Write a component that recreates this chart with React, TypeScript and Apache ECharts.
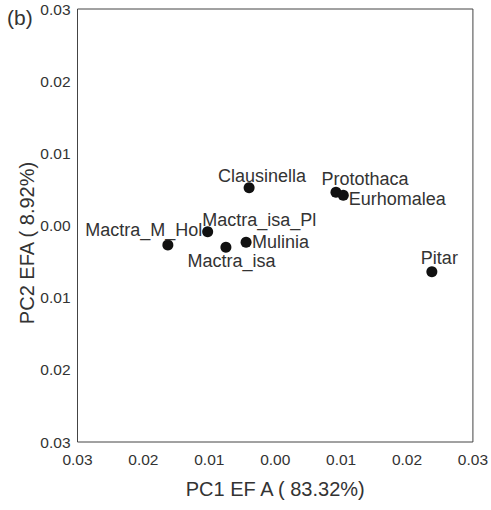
import React, { useEffect, useRef } from "react";
import * as echarts from "echarts";

const names = ["Clausinella", "Mactra_isa_Pl", "Mactra_M_Hol", "Mactra_isa", "Mulinia", "Protothaca", "Eurhomalea", "Pitar"];
const pc1 = [-0.00396, -0.01025, -0.01629, -0.00748, -0.00442, 0.00922, 0.01033, 0.02377];
const pc2 = [0.00524, -0.00086, -0.0027, -0.00302, -0.00233, 0.0046, 0.00418, -0.0064];
// label offsets (label centre relative to point)
const labelDx = [13, 51.5, -24, 5.5, 34.5, 29, 54, 7.5];
const labelDy = [-11.5, -12, -15, 14, 0, -13, 4, -13.5];

const FONT = "'Liberation Sans', Arial, Helvetica, sans-serif";
const TEXT = "#333";

export default function App() {
  const ref = useRef<HTMLDivElement>(null);
  useEffect(() => {
    if (!ref.current) return;
    const chart = echarts.init(ref.current, undefined, { renderer: "svg" });
    const data = names.map((n, i) => ({
      name: n,
      value: [pc1[i], pc2[i]],
      label: {
        show: true,
        formatter: n,
        position: "inside",
        offset: [labelDx[i], labelDy[i]],
        align: "center",
        verticalAlign: "middle",
        color: TEXT,
        fontSize: 18,
        fontFamily: FONT,
      },
    }));
    chart.setOption({
      animation: false,
      grid: {
        left: 77.5,
        right: 15.5,
        top: 9,
        bottom: 68,
        show: true,
        borderColor: "#444",
        borderWidth: 1,
        backgroundColor: "transparent",
      },
      xAxis: {
        type: "value",
        min: -0.03,
        max: 0.03,
        interval: 0.01,
        axisLine: { show: false },
        axisTick: { show: false },
        splitLine: { show: false },
        axisLabel: {
          color: TEXT,
          fontSize: 15.5,
          fontFamily: FONT,
          margin: 9,
          formatter: (v: number) => Math.abs(v).toFixed(2),
        },
        name: "PC1 EF A ( 83.32%)",
        nameLocation: "middle",
        nameGap: 37,
        nameTextStyle: { color: TEXT, fontSize: 20, fontFamily: FONT },
      },
      yAxis: {
        type: "value",
        min: -0.03,
        max: 0.03,
        interval: 0.01,
        axisLine: { show: false },
        axisTick: { show: false },
        splitLine: { show: false },
        axisLabel: {
          color: TEXT,
          fontSize: 15.5,
          fontFamily: FONT,
          margin: 7,
          formatter: (v: number) => Math.abs(v).toFixed(2),
        },
      },
      graphic: [
        {
          type: "text",
          x: 27,
          y: 243,
          rotation: Math.PI / 2,
          style: {
            text: "PC2 EFA ( 8.92%)",
            fill: TEXT,
            fontSize: 20,
            fontFamily: FONT,
            textAlign: "center",
            textVerticalAlign: "middle",
          },
        },
        {
          type: "text",
          x: 7,
          y: 17,
          style: {
            text: "(b)",
            fill: TEXT,
            fontSize: 21,
            fontFamily: FONT,
            textAlign: "left",
            textVerticalAlign: "middle",
          },
        },
      ],
      series: [
        {
          type: "scatter",
          symbol: "circle",
          symbolSize: 11,
          itemStyle: { color: "#111", opacity: 1 },
          data,
        },
      ],
    });
    return () => chart.dispose();
  }, []);
  return <div ref={ref} style={{ width: 491, height: 510, position: "absolute", left: 0, top: 0 }} />;
}
